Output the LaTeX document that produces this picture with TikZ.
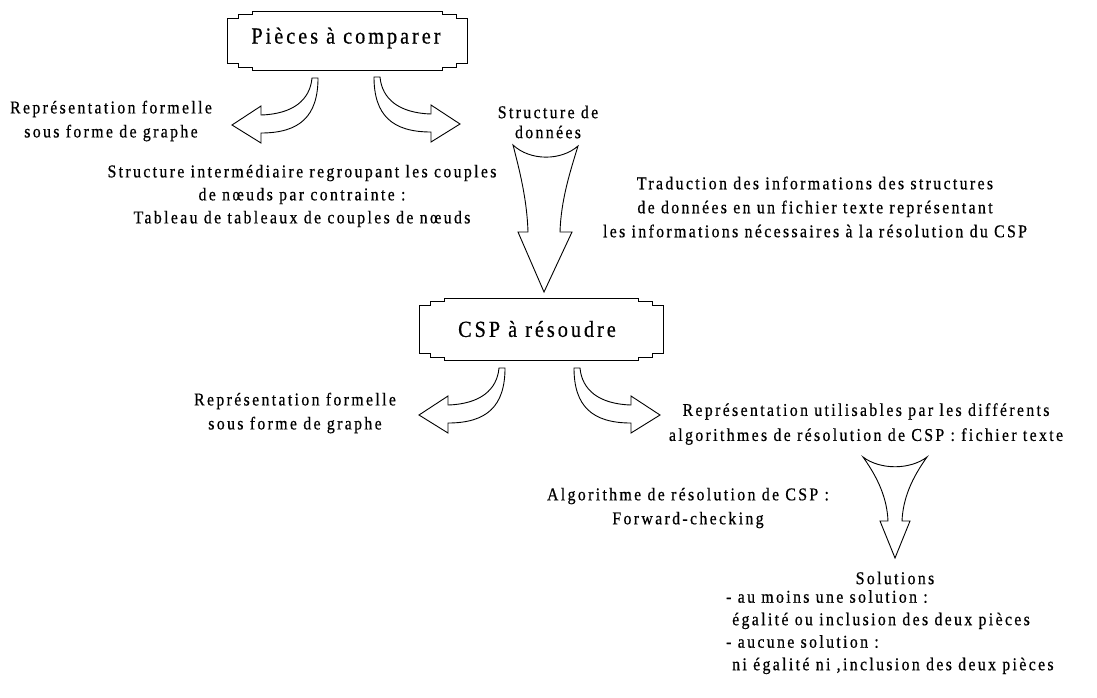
\documentclass[tikz,border=0pt]{standalone}
\usepackage{fontspec}
\newfontfamily\rf{Liberation Serif}[LetterSpace=13,FakeStretch=0.88,FakeBold=0.6]
\newcommand\steppedbox[4]{%
  \draw[blk] (#1,#2+7) -- (#1+11,#2+7) -- (#1+11,#2+3) -- (#1+25,#2+3) -- (#1+25,#2)
   -- (#3-25,#2) -- (#3-25,#2+3) -- (#3-11,#2+3) -- (#3-11,#2+7) -- (#3,#2+7)
   -- (#3,#4-7) -- (#3-11,#4-7) -- (#3-11,#4-3) -- (#3-25,#4-3) -- (#3-25,#4)
   -- (#1+25,#4) -- (#1+25,#4-3) -- (#1+11,#4-3) -- (#1+11,#4-7) -- (#1,#4-7) -- cycle;}
\begin{document}
\begin{tikzpicture}[x=1pt,y=-1pt,
  blk/.style={draw=black,line width=0.9pt,fill=white,line join=miter},
  txt/.style={font=\rf\fontsize{18}{24}\selectfont,align=center,inner sep=0pt,text=black},
  bigtxt/.style={font=\rf\fontsize{23}{26}\selectfont,inner sep=0pt,text=black},
  curvarrow/.pic={
    \draw[blk] (-3,0) .. controls (-5,22) and (-22,36) .. (-54,37) -- (-54,28)
      -- (-83,47) -- (-54,65) -- (-54,55) .. controls (-15,55) and (3,38) .. (3,0) -- cycle;
  }]
\useasboundingbox[fill=white] (0,0) rectangle (1097,697);

% boxes
\steppedbox{227}{11}{467}{70}
\node[bigtxt] (pieces) at (346,38) {Pièces à comparer};
\steppedbox{419}{298}{663}{360}
\node[bigtxt] (csp) at (537,329) {CSP à résoudre};

% curved arrows
\pic (ca1) at (315,78) {curvarrow};
\pic[xscale=-1] (ca2) at (377,77) {curvarrow};
\pic (ca3) at (502,368) {curvarrow};
\pic[xscale=-1] (ca4) at (577,368) {curvarrow};

% big down arrows
\draw[blk] (513,145) .. controls (530,161) and (561,161) .. (578,146)
  .. controls (570,172) and (561,200) .. (560,232) -- (572,232) -- (544,292)
  -- (518,232) -- (528,232) .. controls (527,200) and (520,172) .. (513,145) -- cycle;
\draw[blk] (863,457) .. controls (880,470) and (910,470) .. (927,457)
  .. controls (912,478) and (903,498) .. (902,521) -- (910,521) -- (895,558)
  -- (880,521) -- (888,521) .. controls (887,498) and (878,478) .. (863,457) -- cycle;

% texts
\node[txt] (rep1) at (111,121) {Représentation formelle\\sous forme de graphe};
\node[txt,font=\rf\fontsize{18}{20}\selectfont] (sd) at (548,122) {Structure de\\données};
\node[txt,font=\rf\fontsize{18}{23}\selectfont] (inter) at (302,196) {Structure intermédiaire regroupant les couples\\de nœuds par contrainte :\\Tableau de tableaux de couples de nœuds};
\node[txt] (trad) at (815,207) {Traduction des informations des structures\\de données en un fichier texte représentant\\les informations nécessaires à la résolution du CSP};
\node[txt] (rep2) at (295,413) {Représentation formelle\\sous forme de graphe};
\node[txt,font=\rf\fontsize{18}{25}\selectfont] (util) at (866,424) {Représentation utilisables par les différents\\algorithmes de résolution de CSP : fichier texte};
\node[txt] (algo) at (688,508) {Algorithme de résolution de CSP :\\Forward-checking};
\node[txt] (sol) at (895,578) {Solutions};
\node[txt,align=left,anchor=north west,font=\rf\fontsize{18}{22.5}\selectfont] (sollist) at (726,590) {- au moins une solution :\\\hspace*{6pt}égalité ou inclusion des deux pièces\\- aucune solution :\\\hspace*{6pt}ni égalité ni ,inclusion des deux pièces};
\end{tikzpicture}
\end{document}
